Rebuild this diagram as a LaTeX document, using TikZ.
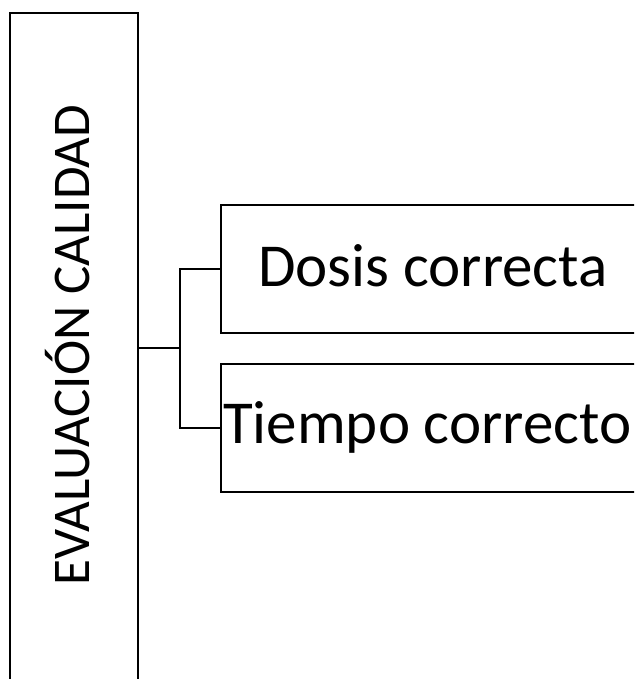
\documentclass[tikz,border=0pt]{standalone}
\usepackage{fontspec}
\setmainfont{Carlito}
\tikzset{
  boxnode/.style={draw=black, line width=2pt, rectangle, inner sep=0pt, outer sep=0pt},
  conn/.style={draw=black, line width=2pt},
  bigtext/.style={inner sep=0pt, font=\fontsize{61}{72}\selectfont},
  vtext/.style={inner sep=0pt, rotate=90, font=\fontsize{53}{62}\selectfont}
}
\begin{document}
\begin{tikzpicture}[x=1pt,y=-1pt]
\clip (0,0) rectangle (634,679);
\fill[white] (0,0) rectangle (634,679);
\node[boxnode, minimum width=128pt, minimum height=707pt] (eval) at (74,366.5) {};
\node[vtext, anchor=base west] (evaltxt) at (89,586) {EVALUACIÓN CALIDAD};
\node[boxnode, minimum width=459pt, minimum height=128pt] (b1) at (450.5,269) {};
\node[boxnode, minimum width=459pt, minimum height=128pt] (b2) at (450.5,428) {};
\node[bigtext, anchor=base west] (t1) at (258,286) {Dosis correcta};
\node[bigtext, anchor=base west] (t2) at (223,443) {Tiempo correcto};
\coordinate (j) at (180,348);
\draw[conn] (j -| eval.east) -- (j);
\draw[conn] (b1.west) -| (j) |- (b2.west);
\end{tikzpicture}
\end{document}
